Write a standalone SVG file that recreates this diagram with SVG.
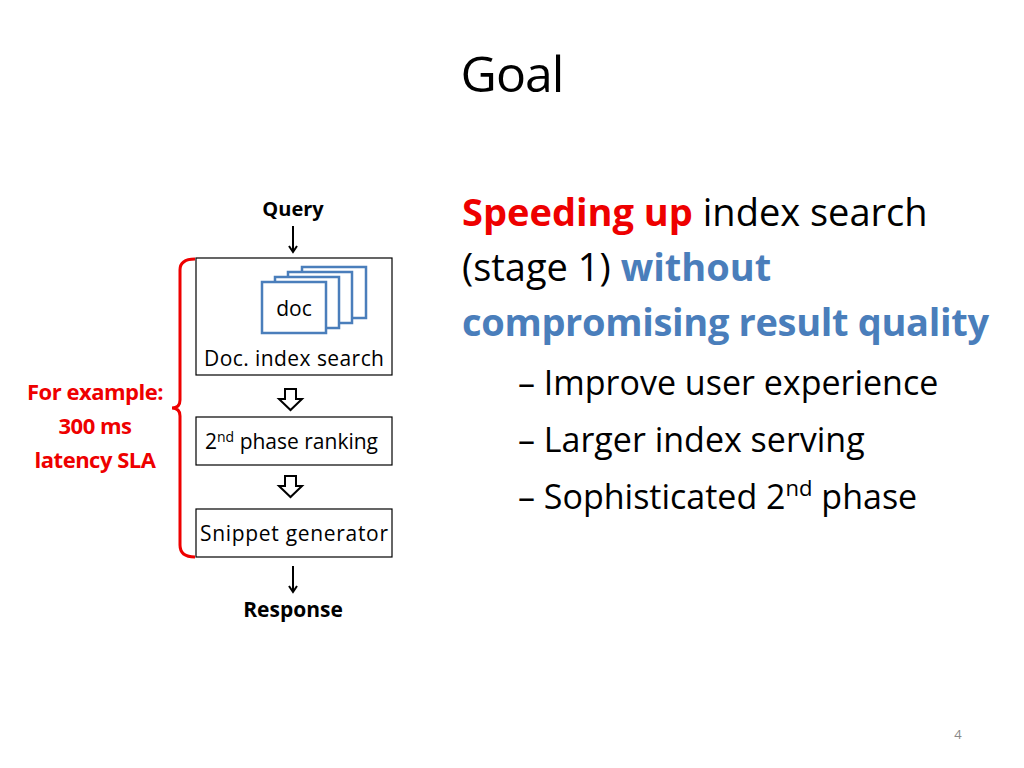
<svg xmlns="http://www.w3.org/2000/svg" width="1024" height="768" viewBox="0 0 1024 768">
<style>
text{font-family:"Open Sans","Liberation Sans",sans-serif}
.box{fill:#fff;stroke:#000;stroke-width:1.2}
.card{fill:#fff;stroke:#4a7ebb;stroke-width:2.5}
.lbl{font-size:21px;fill:#000}
.big{font-size:38px}
.sub{font-size:34px}
.hol{fill:#fff;stroke:#000;stroke-width:2}
</style>
<defs><marker id="ah" markerWidth="10" markerHeight="10" refX="8" refY="5" orient="auto" markerUnits="userSpaceOnUse"><path d="M2,1 L8,5 L2,9" fill="none" stroke="#000" stroke-width="2"/></marker></defs>
<rect width="1024" height="768" fill="#fff"/>
<text x="512" y="92" text-anchor="middle" font-size="50" letter-spacing="-1">Goal</text>
<g id="query"><text x="293" y="216" text-anchor="middle" font-size="20" font-weight="bold">Query</text></g>
<g id="search">
<rect class="box" x="196" y="258" width="196" height="117"/>
<rect class="card" x="302" y="267" width="64" height="51"/>
<rect class="card" x="288" y="272" width="64" height="51"/>
<rect class="card" x="275" y="277" width="64" height="51"/>
<rect class="card" x="262" y="282" width="64" height="51"/>
<text x="294" y="316" text-anchor="middle" class="lbl">doc</text>
<text x="294" y="366" text-anchor="middle" class="lbl" textLength="180">Doc. index search</text>
</g>
<g id="ranking"><rect class="box" x="196" y="417" width="196" height="48"/>
<text x="205" y="449" class="lbl">2<tspan font-size="14" dy="-7">nd</tspan><tspan dy="7"> phase ranking</tspan></text></g>
<g id="snippet"><rect class="box" x="196" y="509" width="196" height="48"/>
<text x="294" y="541" text-anchor="middle" class="lbl" textLength="188">Snippet generator</text></g>
<g id="response"><text x="293" y="617" text-anchor="middle" font-size="21" font-weight="bold">Response</text></g>
<g id="bracket"><path d="M195,259 Q180,259 180,270 L180,400 Q180,408 172,408 Q180,408 180,416 L180,545 Q180,557 195,557" fill="none" stroke="#e00" stroke-width="3"/>
<text text-anchor="middle" font-size="22" font-weight="bold" fill="#e00" letter-spacing="-0.5"><tspan x="95" y="400">For example:</tspan><tspan x="95" y="434">300 ms</tspan><tspan x="95" y="468">latency SLA</tspan></text></g>
<g id="connectors">
<line x1="293" y1="226" x2="293" y2="252" stroke="#000" stroke-width="2" marker-end="url(#ah)"/>
<line x1="293" y1="566" x2="293" y2="592" stroke="#000" stroke-width="2" marker-end="url(#ah)"/>
<path class="hol" d="M285,389 L296,389 L296,399 L302,399 L290.5,410 L279,399 L285,399 Z"/>
<path class="hol" d="M285,476 L296,476 L296,486 L302,486 L290.5,497 L279,486 L285,486 Z"/>
</g>
<g id="text">
<text class="big" x="462" y="226"><tspan fill="#e00" font-weight="bold">Speeding up</tspan> index search</text>
<text class="big" x="462" y="281">(stage 1) <tspan fill="#4a7ebb" font-weight="bold">without</tspan></text>
<text class="big" x="462" y="336" fill="#4a7ebb" font-weight="bold" textLength="527">compromising result quality</text>
<text class="sub" x="518" y="395">– Improve user experience</text>
<text class="sub" x="518" y="452">– Larger index serving</text>
<text class="sub" x="518" y="509">– Sophisticated 2<tspan font-size="22" dy="-13">nd</tspan><tspan dy="13"> phase</tspan></text>
</g>
<text x="958" y="739" text-anchor="middle" font-size="13" fill="#888">4</text>
</svg>
